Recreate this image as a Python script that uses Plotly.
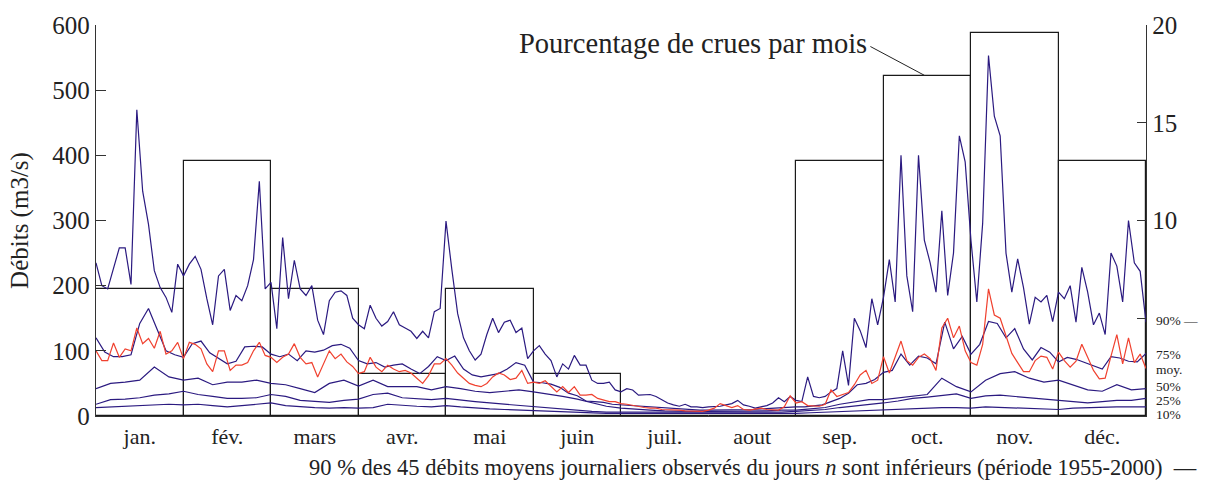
import numpy as np
import plotly.graph_objects as go

months = ["jan.", "fév.", "mars", "avr.", "mai", "juin", "juil.", "aout", "sep.", "oct.", "nov.", "déc."]

# percentage of floods per month (right axis)
crues_pct = [6.52, 13.04, 6.52, 2.17, 6.52, 2.17, 0, 0, 13.04, 17.39, 19.57, 13.04]

# daily-flow quantiles (m3/s), 15 samples per month
q90 = [235, 200, 195, 228, 258, 258, 202, 470, 345, 294, 223, 197, 182, 159, 233,
       215, 233, 245, 225, 180, 140, 215, 225, 162, 185, 177, 200, 240, 360, 195,
       205, 134, 274, 180, 239, 195, 185, 200, 147, 125, 177, 190, 192, 185, 150,
       140, 134, 170, 150, 138, 145, 160, 140, 135, 130, 119, 130, 120, 160, 165,
       299, 225, 157, 120, 100, 86, 95, 125, 150, 128, 144, 147, 128, 135, 88,
       100, 108, 95, 85, 60, 80, 72, 93, 78, 78, 55, 50, 50, 52, 40,
       37, 42, 40, 32, 32, 33, 30, 25, 20, 17, 15, 18, 14, 14, 13,
       14, 14, 15, 17, 19, 24, 17, 15, 12, 14, 16, 20, 28, 22, 30,
       24, 22, 60, 30, 28, 30, 37, 42, 100, 47, 150, 131, 105, 180, 140,
       182, 240, 175, 400, 215, 160, 400, 270, 235, 190, 315, 185, 250, 430, 390,
       269, 175, 296, 553, 460, 430, 250, 190, 241, 197, 141, 182, 175, 185, 145,
       190, 180, 200, 144, 228, 190, 140, 158, 125, 250, 230, 175, 300, 235, 222,
       144]

moy = [100, 85, 85, 112, 90, 103, 100, 135, 111, 119, 104, 130, 95, 100, 113,
       88, 113, 110, 103, 80, 68, 100, 100, 70, 78, 78, 82, 100, 113, 93,
       90, 82, 90, 95, 111, 90, 80, 82, 60, 80, 100, 88, 95, 83, 76,
       65, 68, 90, 75, 68, 78, 72, 68, 70, 66, 58, 50, 62, 80, 80,
       88, 78, 66, 58, 50, 47, 45, 50, 60, 66, 63, 56, 58, 70, 50,
       52, 50, 54, 45, 37, 45, 36, 45, 32, 32, 33, 27, 24, 22, 22,
       19, 18, 16, 14, 13, 12, 12, 10, 10, 9, 9, 8, 8, 8, 7,
       9, 12, 19, 16, 13, 16, 10, 9, 10, 12, 10, 10, 9, 14, 31,
       20, 22, 16, 16, 15, 18, 40, 30, 33, 36, 48, 63, 70, 50, 55,
       91, 66, 92, 115, 85, 78, 90, 95, 88, 70, 135, 150, 120, 138, 100,
       82, 78, 110, 195, 155, 150, 122, 96, 82, 68, 68, 85, 92, 90, 72,
       98, 85, 75, 84, 110, 90, 70, 57, 58, 92, 125, 80, 120, 82, 95,
       73]

# 10 samples per month
q75 = [120, 98, 91, 91, 94, 142, 165, 131, 100, 94,
       90, 111, 115, 97, 89, 80, 84, 106, 107, 106,
       95, 91, 95, 85, 100, 98, 101, 108, 110, 104,
       85, 80, 82, 75, 78, 80, 72, 65, 76, 91,
       85, 92, 72, 63, 60, 62, 65, 72, 82, 78,
       52, 51, 49, 44, 35, 31, 23, 22, 21, 18,
       17, 16, 15, 14, 13, 12, 11, 11, 10, 9,
       9, 9, 9, 9, 10, 10, 11, 12, 13, 14,
       14, 14, 15, 17, 22, 27, 35, 48, 50, 56,
       67, 70, 95, 78, 92, 89, 80, 144, 103, 122,
       95, 110, 145, 142, 120, 134, 103, 86, 105, 98,
       83, 90, 87, 82, 77, 72, 91, 89, 84, 83,
       96]

# 6 samples per month
q50 = [42, 50, 52, 55, 75, 60,
       55, 58, 48, 52, 52, 55,
       50, 48, 42, 36, 50, 55,
       46, 55, 45, 45, 45, 40,
       45, 42, 38, 36, 38, 40,
       37, 34, 30, 26, 20, 15,
       12, 10, 9, 8, 7, 7,
       7, 7, 7, 7, 8, 9,
       9, 11, 13, 18, 22, 25,
       25, 28, 30, 33, 58, 45,
       37, 55, 65, 68, 58, 52,
       55, 48, 40, 38, 48, 40,
       42]

q25 = [18, 25, 26, 28, 32, 34,
       38, 33, 30, 27, 27, 28,
       33, 30, 24, 22, 21, 24,
       26, 33, 35, 28, 26, 25,
       27, 24, 22, 20, 18, 16,
       14, 12, 10, 8, 7, 6,
       6, 6, 5, 5, 5, 5,
       5, 5, 5, 5, 5, 6,
       7, 8, 10, 13, 15, 18,
       20, 23, 27, 29, 32, 34,
       27, 31, 32, 30, 27, 25,
       24, 22, 20, 22, 24, 24,
       27]

q10 = [13, 14, 15, 17, 18, 18,
       17, 18, 16, 14, 16, 18,
       20, 16, 14, 13, 12, 13,
       12, 13, 18, 16, 15, 14,
       16, 14, 12, 11, 10, 9,
       9, 8, 7, 6, 5, 4,
       4, 4, 4, 3, 3, 3,
       3, 3, 3, 3, 3, 4,
       4, 5, 6, 7, 8, 9,
       10, 11, 12, 13, 13, 13,
       12, 14, 13, 12, 11, 11,
       10, 12, 13, 13, 14, 14,
       14]

FONT = "Liberation Serif"
INK = "#222222"
BLUE = "#2b1a80"
RED = "#f0412f"

fig = go.Figure()

centers = np.arange(12) + 0.5
fig.add_trace(go.Bar(x=centers, y=crues_pct, width=1.0, yaxis="y",
                     marker=dict(color="rgba(0,0,0,0)", line=dict(color="#1a1a1a", width=1.2)),
                     hoverinfo="skip", showlegend=False))

def add_line(vals, per_month, color):
    x = np.arange(len(vals)) / per_month
    fig.add_trace(go.Scatter(x=x, y=vals, yaxis="y2", mode="lines",
                             line=dict(color=color, width=1.2), showlegend=False))

add_line(q10, 6, BLUE)
add_line(q25, 6, BLUE)
add_line(q50, 6, BLUE)
add_line(q75, 10, BLUE)
add_line(q90, 15, BLUE)
add_line(moy, 15, RED)

fig.update_layout(
    width=1205, height=482, autosize=False,
    margin=dict(l=96, r=59, t=23, b=66),
    paper_bgcolor="white", plot_bgcolor="white",
    font=dict(family=FONT, color=INK),
    bargap=0,
    xaxis=dict(range=[0, 12], tickvals=list(centers), ticktext=months, ticks="",
               showline=True, linecolor="#333", linewidth=1.3, showgrid=False,
               zeroline=False, tickfont=dict(size=22, family=FONT, color=INK)),
    yaxis=dict(side="right", range=[0, 20], tickvals=[5, 10, 15, 20],
               ticktext=["", "10", "15", "20"], ticks="inside", ticklen=9,
               tickcolor="#333", showline=True, linecolor="#333", linewidth=1.3,
               showgrid=False, zeroline=False,
               tickfont=dict(size=25, family=FONT, color=INK)),
    yaxis2=dict(overlaying="y", side="left", range=[0, 600],
                tickvals=[0, 100, 200, 300, 400, 500, 600], ticks="inside", ticklen=10,
                tickcolor="#333", showline=True, linecolor="#333", linewidth=1.3,
                showgrid=False, zeroline=False,
                tickfont=dict(size=25, family=FONT, color=INK),
                title=dict(text="Débits (m3/s)", font=dict(size=25, family=FONT, color=INK),
                           standoff=16)),
)

# label positions in the right margin (y in flow units, chosen for spacing)
labels = [("90% —", 147), ("75%", 94), ("moy.", 71), ("50%", 46), ("25%", 24), ("10%", 2)]
for txt, yv in labels:
    fig.add_annotation(x=1.0, xref="paper", y=yv, yref="y2", text=txt, showarrow=False,
                       xanchor="left", yanchor="middle", xshift=8,
                       font=dict(size=13.5, family=FONT, color=INK))

fig.add_annotation(x=0.736, xref="paper", y=0.952, yref="paper",
                   text="Pourcentage de crues par mois", showarrow=False,
                   xanchor="right", yanchor="middle",
                   font=dict(size=28.5, family=FONT, color=INK))
fig.add_shape(type="line", xref="x", yref="y", x0=8.85, y0=18.9, x1=9.47, y1=17.42,
              line=dict(color="#222", width=1))

fig.add_annotation(x=1.05, xref="paper", y=-0.132, yref="paper",
                   text="90 % des 45 débits moyens journaliers observés du jours <i>n</i> sont inférieurs (période 1955-2000)  —",
                   showarrow=False, xanchor="right", yanchor="middle",
                   font=dict(size=22.5, family=FONT, color=INK))

fig.write_html("out.html", config={"displayModeBar": False},
               post_script="document.body.style.margin='0';document.body.style.overflow='hidden';")
